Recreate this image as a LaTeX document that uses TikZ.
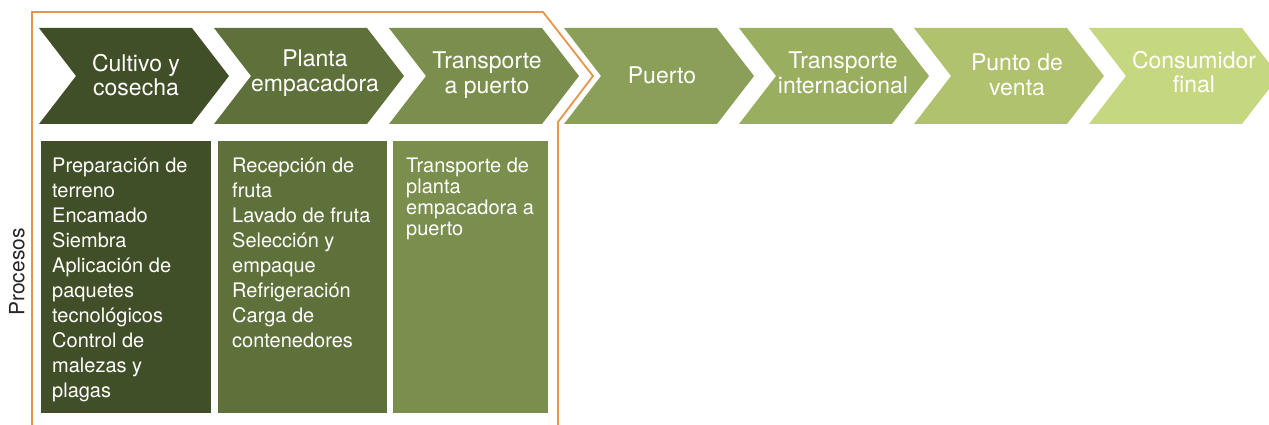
\documentclass[tikz,border=0pt]{standalone}
\usepackage{fontspec}
\setmainfont{TeX Gyre Heros}
\definecolor{c1}{HTML}{414F28}
\definecolor{c2}{HTML}{5F713B}
\definecolor{c3}{HTML}{7A8F4D}
\definecolor{c4}{HTML}{8AA058}
\definecolor{c5}{HTML}{9AAE5F}
\definecolor{c6}{HTML}{B0C26E}
\definecolor{c7}{HTML}{C6D87F}
\definecolor{orng}{HTML}{E6954A}
\tikzset{
  chevtext/.style={text=white, align=center, inner sep=0pt, font=\fontsize{23}{24.5}\selectfont},
  procbox/.style={anchor=north west, minimum width=170pt, minimum height=272pt, inner sep=0pt, draw=none},
  bodytext/.style={text=white, align=left, anchor=north west, inner sep=0pt, font=\fontsize{20}{25}\selectfont},
  bodytight/.style={bodytext, font=\fontsize{20}{21.2}\selectfont},
  bracket/.style={draw=orng, line width=1.8pt},
}
\begin{document}
\begin{tikzpicture}[x=1pt, y=-1pt]
\useasboundingbox (0,0) rectangle (1269,425);
\clip (0,0) rectangle (1269,425);
% chevrons
\foreach \x/\c in {39/c1, 214/c2, 389/c3, 564/c4, 739/c5, 914/c6, 1089/c7}{
  \fill[\c] (\x,28) -- ++(153,0) -- ++(37,48) -- ++(-37,48) -- ++(-153,0) -- ++(37,-48) -- cycle;
}
\node[chevtext] (t1) at (136,75) {Cultivo y\\cosecha};
\node[chevtext] (t2) at (315,73) {Planta\\empacadora};
\node[chevtext] (t3) at (487,75) {Transporte\\a puerto};
\node[chevtext] (t4) at (662,75) {Puerto};
\node[chevtext] (t5) at (843,73) {Transporte\\internacional};
\node[chevtext] (t6) at (1017,75) {Punto de\\venta};
\node[chevtext] (t7) at (1194,72) {Consumidor\\final};
% process boxes
\node[procbox, fill=c1] (b1) at (41,141) {};
\node[procbox, fill=c2, minimum width=169pt] (b2) at (218,141) {};
\node[procbox, fill=c3, minimum width=155pt] (b3) at (393,141) {};
\node[bodytext] (p1) at (52,154) {\rule{0pt}{18pt}Preparación de\\terreno\\Encamado\\Siembra\\Aplicación de\\paquetes\\tecnológicos\\Control de\\malezas y\\plagas};
\node[bodytext] (p2) at (232,154) {\rule{0pt}{18pt}Recepción de\\fruta\\Lavado de fruta\\Selección y\\empaque\\Refrigeración\\Carga de\\contenedores};
\node[bodytight] (p3) at (406,154) {\rule{0pt}{18pt}Transporte de\\planta\\empacadora a\\puerto};
\node[rotate=90, inner sep=0pt, text=black!85, font=\fontsize{21}{24}\selectfont] (proc) at (17,272) {Procesos};
% orange bracket
\draw[bracket] (32,430) -- (32,12) -- (543,12) -- (593,76) -- (558,122) -- (558,430);
\end{tikzpicture}
\end{document}
